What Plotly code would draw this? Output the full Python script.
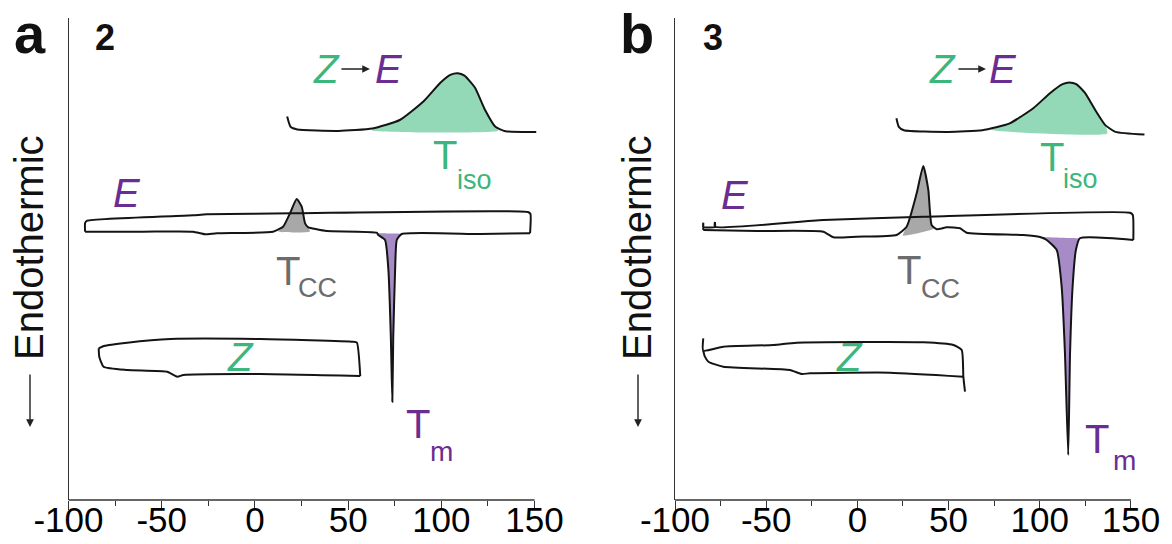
import plotly.graph_objects as go

# ---------------- compound 2 (panel a) ----------------
# isomerisation exotherm (Z -> E), heating
A_ISO_T = [17.3, 19.1, 22.7, 44.7, 63.0, 77.7, 90.5, 99.6, 105.1, 108.8, 112.4, 118.0, 123.4, 129.0, 134.4, 150.9]
A_ISO_Y = [383.4, 373.2, 370.5, 369.1, 371.5, 380.0, 398.8, 417.6, 425.4, 426.8, 424.4, 412.5, 390.3, 373.2, 368.8, 368.1]

# E isomer: heating branch (cold crystallisation + melting) and cooling branch
A_E_HEAT_T = [-91.1, -60.0, -33.2, -26.8, -20.5, 9.7, 15.1, 18.8, 22.4, 25.1, 26.9, 28.6, 33.2, 38.5, 65.3,
              66.2, 69.8, 71.6, 72.9, 73.7, 74.2, 75.2, 76.1, 78.8, 120.8, 147.6]
A_E_HEAT_Y = [268.3, 268.3, 268.3, 265.7, 266.7, 268.3, 273.3, 286.7, 301.0, 293.3, 276.7, 272.7, 270.7, 269.0, 267.3,
              265.0, 260.0, 230.0, 163.3, 98.3, 163.3, 230.0, 260.0, 266.0, 266.0, 266.7]
A_E_COOL_T = [147.6, 147.8, 146.5, 20.4, -25.9, -33.2, -90.0, -91.1, -91.1]
A_E_COOL_Y = [266.7, 286.0, 288.0, 286.7, 285.7, 284.7, 279.4, 277.0, 268.3]

# Z isomer
A_Z_COOL_T = [-83.8, -81.0, -68.5, -45.3, 2.9, 52.7, 54.7, 56.5]
A_Z_COOL_Y = [151.7, 154.0, 157.3, 161.0, 161.0, 158.3, 157.3, 124.0]
A_Z_HEAT_T = [-83.8, -83.5, -81.2, -68.5, -47.1, -41.7, -38.4, 2.9, 56.5]
A_Z_HEAT_Y = [151.7, 143.3, 133.3, 130.0, 128.3, 123.3, 125.0, 126.0, 124.0]

# ---------------- compound 3 (panel b) ----------------
B_ISO_T = [21.4, 22.7, 25.5, 49.8, 68.5, 83.5, 96.6, 105.9, 112.5, 116.2, 120.0, 124.7, 130.3, 135.9, 141.5, 157.4]
B_ISO_Y = [381.7, 373.2, 369.8, 368.1, 369.8, 376.6, 392.0, 407.3, 415.9, 417.6, 415.9, 407.3, 390.3, 374.9, 368.1, 365.4]

B_E_HEAT_T = [-84.5, -55.2, -18.7, -13.2, -0.4, 21.5, 27.0, 32.5, 36.1, 38.9, 40.7, 43.5, 49.0, 56.3, 59.9,
              91.0, 100.1, 103.8, 109.3, 112.0, 113.8, 115.6, 116.6, 118.0, 119.8, 122.0, 151.3]
B_E_HEAT_Y = [270.0, 269.0, 268.3, 262.7, 263.3, 265.0, 273.3, 306.7, 334.0, 310.0, 275.0, 270.7, 272.7, 271.7, 267.3,
              265.0, 263.0, 260.0, 250.0, 213.3, 147.0, 45.0, 147.0, 213.3, 250.0, 261.7, 260.0]
B_E_COOL_T = [151.3, 151.0, 149.5, 36.1, -18.7, -78.1, -78.1, -78.1, -84.5, -84.5, -84.5]
B_E_COOL_Y = [260.0, 285.0, 287.3, 283.3, 280.0, 273.2, 278.0, 273.2, 273.0, 277.3, 270.0]

B_Z_COOL_T = [-84.5, -84.5, -73.5, -46.1, -33.3, 36.1, 52.6, 57.2, 58.1, 59.0]
B_Z_COOL_Y = [161.7, 149.3, 153.3, 155.0, 157.3, 157.7, 155.0, 150.0, 123.3, 108.3]
B_Z_HEAT_T = [-84.5, -83.6, -81.7, -73.5, -37.0, -30.5, -26.0, 17.9, 58.1]
B_Z_HEAT_Y = [149.3, 143.3, 138.3, 133.3, 130.0, 126.0, 126.7, 127.3, 123.3]

TICK_VALS = [-100, -50, 0, 50, 100, 150]
TICK_TEXT = ["-100", "-50", "0", "50", "100", "150"]
MINOR_VALS = [-75, -25, 25, 75, 125]

FONT = "Liberation Sans, Arial, Helvetica, sans-serif"
GREEN = "#3bb67c"
PURPLE = "#6a2d91"
GREY_TXT = "#6c6c6c"
GREEN_FILL = "#94d9b7"
PURPLE_FILL = "#a78bc7"
GREY_FILL = "#a8a8a8"
INK = "#141414"
AXIS = "#333333"


def band(ts, ys, t0, y0, t1, y1):
    """Closed polygon between a curve section and a straight baseline."""
    sel = [(t, y) for t, y in zip(ts, ys) if t0 <= t <= t1]
    xs = [t0] + [p[0] for p in sel] + [t1, t0]
    yv = [y0] + [p[1] for p in sel] + [y1, y0]
    return xs, yv


fig = go.Figure()


def add_fill(xs, ys, color, xa, ya):
    fig.add_trace(go.Scatter(x=xs, y=ys, mode="lines", fill="toself", fillcolor=color,
                             line=dict(width=0, shape="spline", smoothing=0.5),
                             xaxis=xa, yaxis=ya, hoverinfo="skip"))


def add_line(xs, ys, xa, ya):
    fig.add_trace(go.Scatter(x=xs, y=ys, mode="lines",
                             line=dict(color=INK, width=2, shape="spline", smoothing=0.5),
                             xaxis=xa, yaxis=ya, hoverinfo="skip"))


# panel a
add_fill(*band(A_ISO_T, A_ISO_Y, 63.0, 369.5, 130.5, 369.3), GREEN_FILL, "x", "y")
add_fill(*band(A_E_HEAT_T, A_E_HEAT_Y, 12.5, 268.4, 29.5, 268.6), GREY_FILL, "x", "y")
add_fill(*band(A_E_HEAT_T, A_E_HEAT_Y, 65.3, 267.0, 78.8, 266.2), PURPLE_FILL, "x", "y")
for xs, ys in [(A_ISO_T, A_ISO_Y), (A_E_HEAT_T, A_E_HEAT_Y), (A_E_COOL_T, A_E_COOL_Y),
               (A_Z_COOL_T, A_Z_COOL_Y), (A_Z_HEAT_T, A_Z_HEAT_Y)]:
    add_line(xs, ys, "x", "y")

# panel b
add_fill(*band(B_ISO_T, B_ISO_Y, 73.0, 370.2, 137.0, 366.6), GREEN_FILL, "x2", "y2")
add_fill(*band(B_E_HEAT_T, B_E_HEAT_Y, 25.0, 264.5, 42.0, 271.5), GREY_FILL, "x2", "y2")
add_fill(*band(B_E_HEAT_T, B_E_HEAT_Y, 100.1, 263.0, 122.0, 261.7), PURPLE_FILL, "x2", "y2")
for xs, ys in [(B_ISO_T, B_ISO_Y), (B_E_HEAT_T, B_E_HEAT_Y), (B_E_COOL_T, B_E_COOL_Y),
               (B_Z_COOL_T, B_Z_COOL_Y), (B_Z_HEAT_T, B_Z_HEAT_Y)]:
    add_line(xs, ys, "x2", "y2")

W, H = 1172, 544
Y_DOM = [44 / H, 526 / H]


def xaxis_cfg(dom, anchor):
    return dict(domain=dom, range=[-100, 160], tickmode="array", tickvals=TICK_VALS, ticktext=TICK_TEXT,
                ticks="outside", ticklen=9, tickwidth=1.3, tickcolor=AXIS,
                minor=dict(tickmode="array", tickvals=MINOR_VALS, ticks="outside", ticklen=5,
                           tickwidth=1.2, tickcolor=AXIS),
                showline=False, showgrid=False, zeroline=False, anchor=anchor, automargin=False,
                ticklabelstandoff=-20,
                tickfont=dict(family=FONT, size=35, color="#000"))


def yaxis_cfg(anchor):
    return dict(domain=Y_DOM, range=[0, 482], showline=True, linecolor=AXIS, linewidth=1.3,
                showticklabels=False, ticks="", showgrid=False, zeroline=False, anchor=anchor,
                automargin=False)


ann = []


def txt(text, x, y, size, color, xref, yref, **kw):
    ann.append(dict(text=text, x=x, y=y, xref=xref, yref=yref, showarrow=False,
                    xanchor="center", yanchor="middle",
                    font=dict(family=FONT, size=size, color=color), **kw))


def arrow(x0, x1, y, xref, yref):
    ann.append(dict(text="", x=x1, y=y, ax=x0, ay=y, xref=xref, yref=yref,
                    axref=xref, ayref=yref,
                    showarrow=True, arrowhead=2, arrowsize=1.1, arrowwidth=1.4, arrowcolor="#222"))


def panel_labels(xr, yr, zx, arx, ex, tiso, iso, e_pos, tcc, cc, z_pos, tm, m):
    txt("<i>Z</i>", zx, 431, 40, GREEN, xr, yr)
    arrow(arx[0], arx[1], 431, xr, yr)
    txt("<i>E</i>", ex, 431, 40, PURPLE, xr, yr)
    txt("T", tiso[0], tiso[1], 40, GREEN, xr, yr)
    txt("iso", iso[0], iso[1], 27, GREEN, xr, yr)
    txt("<i>E</i>", e_pos[0], e_pos[1], 40, PURPLE, xr, yr)
    txt("T", tcc[0], tcc[1], 40, GREY_TXT, xr, yr)
    txt("CC", cc[0], cc[1], 27, GREY_TXT, xr, yr)
    txt("<i>Z</i>", z_pos[0], z_pos[1], 40, GREEN, xr, yr)
    txt("T", tm[0], tm[1], 40, PURPLE, xr, yr)
    txt("m", m[0], m[1], 28, PURPLE, xr, yr)


panel_labels("x", "y", 38.6, (45.6, 61.7), 71.9, (101.8, 345), (118.0, 320), (-68.6, 307),
             (17.5, 229.5), (33.6, 212), (-7.5, 143), (87.4, 76), (100.3, 49))
panel_labels("x2", "y2", 46.4, (54.6, 70.5), 80.1, (106.7, 343), (122.6, 321), (-67.1, 305),
             (28.3, 230), (45.3, 211), (-4.1, 143), (131.4, 61), (146.2, 40))

# panel letters, compound numbers, y-axis caption
for letter, num, lx, nx, cx in [("a", "2", 30, 105, 29), ("b", "3", 637, 713, 637)]:
    txt("<b>" + letter + "</b>", lx / W, 1 - 33 / H, 56, "#111", "paper", "paper")
    txt("<b>" + num + "</b>", nx / W, 1 - 38 / H, 36, "#111", "paper", "paper")
    txt("Endothermic", cx / W, 1 - 248 / H, 40, "#111", "paper", "paper", textangle=-90)
    ann.append(dict(text="", x=(cx + 1) / W, y=1 - 427 / H, ax=0, ay=-54,
                    xref="paper", yref="paper", axref="pixel", ayref="pixel", showarrow=True,
                    arrowhead=2, arrowsize=1.1, arrowwidth=1.4, arrowcolor="#222"))

shapes = [
    dict(type="line", xref="x", yref="paper", x0=-100, x1=150, y0=Y_DOM[0], y1=Y_DOM[0],
         line=dict(color=AXIS, width=1.3)),
    dict(type="line", xref="x2", yref="paper", x0=-100, x1=150, y0=Y_DOM[0], y1=Y_DOM[0],
         line=dict(color=AXIS, width=1.3)),
]

fig.update_layout(
    width=W, height=H, margin=dict(l=0, r=0, t=0, b=0, autoexpand=False),
    paper_bgcolor="white", plot_bgcolor="white", showlegend=False,
    xaxis=xaxis_cfg([68.5 / W, 553.2 / W], "y"), yaxis=yaxis_cfg("x"),
    xaxis2=xaxis_cfg([675 / W, 1149.2 / W], "y2"), yaxis2=yaxis_cfg("x2"),
    annotations=ann, shapes=shapes,
)

fig.write_html("out.html")
